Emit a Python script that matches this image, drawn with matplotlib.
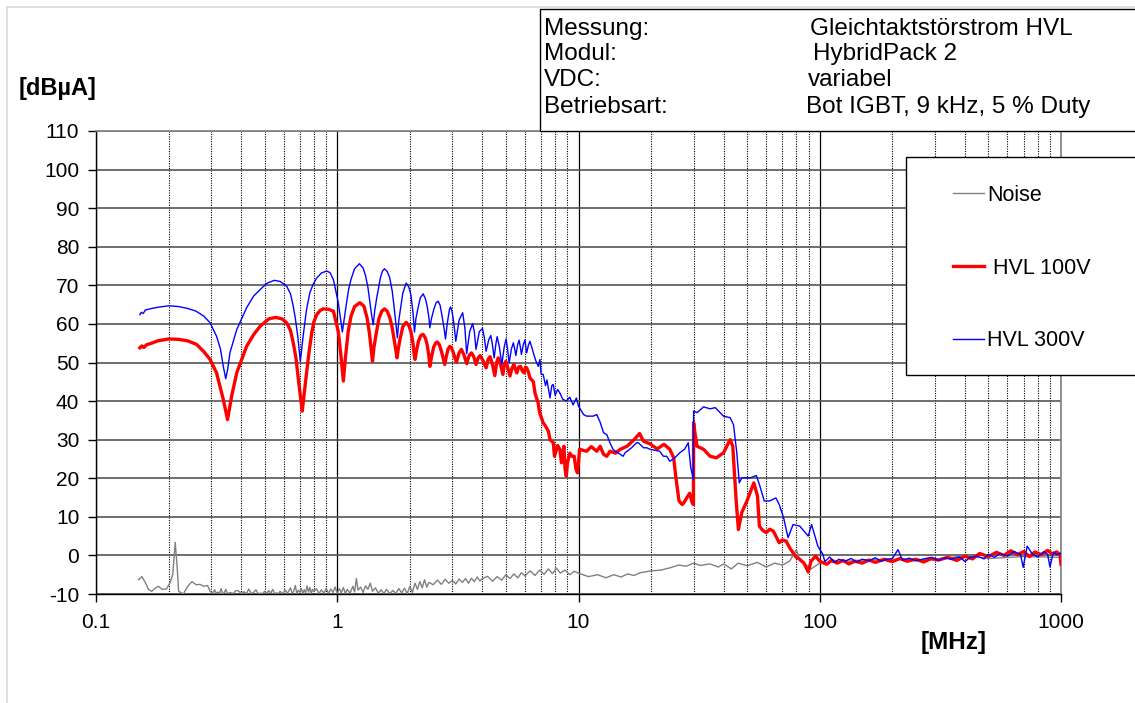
import matplotlib
matplotlib.use("Agg")
import matplotlib.pyplot as plt
from matplotlib.patches import Rectangle
from matplotlib.lines import Line2D
import numpy as np

plt.rcParams['font.family'] = ['Liberation Sans', 'DejaVu Sans']

# ---------------- data ----------------
red_f = [0.152, 0.155, 0.158, 0.162, 0.17, 0.18, 0.2, 0.22, 0.24, 0.261, 0.28, 0.297, 0.316, 0.337, 0.351,
         0.365, 0.383, 0.421, 0.45, 0.479, 0.52, 0.556, 0.59, 0.617, 0.64, 0.657, 0.675, 0.69, 0.716, 0.746,
         0.765, 0.784, 0.80, 0.822, 0.85, 0.875, 0.92, 0.964, 1.01, 1.035, 1.06,
         1.08, 1.11, 1.14, 1.18, 1.24, 1.29, 1.33, 1.36, 1.38, 1.40,
         1.42, 1.45, 1.49, 1.53, 1.57, 1.61, 1.65, 1.69, 1.72, 1.75, 1.77,
         1.79, 1.82, 1.87, 1.93, 1.98, 2.02, 2.06, 2.08, 2.10,
         2.13, 2.17, 2.22, 2.27, 2.32, 2.36, 2.40, 2.42,
         2.46, 2.51, 2.56, 2.60, 2.65, 2.70, 2.75, 2.79,
         2.83, 2.88, 2.93, 2.98, 3.03, 3.08, 3.12,
         3.2, 3.27, 3.35, 3.44, 3.52, 3.6, 3.68, 3.76, 3.84, 3.91, 4.02, 4.14, 4.22, 4.30, 4.4, 4.5, 4.58, 4.65,
         4.75, 4.86, 4.93, 5.0, 5.1, 5.2, 5.3, 5.4, 5.48, 5.55, 5.65, 5.75, 5.85, 5.95, 6.03, 6.1, 6.2, 6.29,
         6.5, 6.6, 6.8, 6.9, 7.14, 7.3, 7.5, 7.62, 7.86, 7.95, 8.2, 8.37, 8.5, 8.7, 8.8, 8.9, 9.0, 9.2, 9.4,
         9.6, 9.75, 9.9, 10.0, 10.1, 10.5, 10.8, 11.3, 11.9, 12.3, 12.7, 13.1, 13.5, 14.2, 14.9, 15.9, 17.0,
         17.9, 18.6, 19.8, 21.2, 22.6, 23.9, 24.8, 25.3, 26.1, 26.9, 27.3, 28.4, 28.9, 29.6, 29.95, 30.0, 30.5,
         31.0, 33.0, 35.1, 37.3, 39.9, 42.5, 43.6, 45.0, 46.0, 47.5, 49.9, 53.3, 55.2, 56.2, 58, 60.0, 62, 64.2,
         67.9, 70, 72.6, 75, 77.5, 80, 82.6, 86, 89.6, 92, 96, 100, 107, 112, 118, 125, 132, 140, 150, 160,
         170, 185, 200, 215, 230, 250, 270, 290, 310, 340, 370, 400, 430, 460, 500, 540, 580, 620, 660, 700,
         740, 780, 830, 880, 920, 960, 990, 1000]
red_v = [53.8, 54.3, 53.9, 54.6, 55.0, 55.6, 56.1, 56.0, 55.6, 54.7, 52.8, 50.8, 47.3, 40.4, 35.2,
         41.3, 47.3, 54.2, 57.2, 59.4, 61.3, 61.7, 61.3, 60.3, 58.3, 55.1, 51.0, 45.6, 37.4, 47.3,
         53.0, 57.7, 60.5, 62.4, 63.5, 63.9, 63.8, 63.3, 58.0, 52.0, 45.2,
         51.0, 58.0, 62.0, 64.5, 65.5, 64.6, 61.5, 57.5, 54.0, 50.3,
         54.0, 57.5, 61.5, 63.3, 63.9, 63.3, 61.7, 59.0, 56.0, 53.0, 51.2,
         53.5, 56.0, 59.3, 60.4, 59.6, 58.0, 55.0, 52.5, 50.8,
         53.0, 55.5, 57.0, 57.3, 56.3, 54.5, 51.5, 49.0,
         51.5, 54.0, 55.1, 55.3, 54.6, 53.0, 51.0, 49.5,
         51.5, 53.5, 54.2, 53.7, 52.5, 51.0, 50.1,
         52.5, 53.4, 52.0, 49.7, 51.8, 52.5, 51.5, 49.5, 51.2, 51.8, 50.5, 48.6, 50.8, 51.5, 49.5, 46.6, 50.0, 51.2,
         49.5, 46.9, 49.5, 50.3, 48.5, 46.5, 48.5, 49.5, 48.2, 47.3, 48.8, 49.0, 47.8, 47.3, 48.8, 48.6, 47.5, 46.0,
         45.0, 42.1, 39.6, 37.0, 34.4, 33.5, 32.2, 30.0, 29.2, 25.7, 28.5, 27.5, 24.0, 28.3, 22.3, 20.5, 24.0, 26.5, 25.7,
         25.7, 22.5, 21.4, 24.0, 27.5, 27.2, 27.0, 28.2, 27.0, 28.3, 26.2, 25.7, 27.0, 26.5, 27.5, 28.3, 30.0,
         31.6, 29.6, 28.9, 27.6, 28.8, 27.5, 25.3, 20.5, 14.1, 13.2, 13.6, 15.4, 16.1, 13.6, 13.2, 34.4, 31.0,
         28.3, 27.5, 25.7, 25.3, 26.6, 30.0, 28.3, 14.5, 6.7, 11.1, 14.1, 18.8, 15.4, 7.6, 6.5, 5.9, 6.8, 6.3,
         3.3, 4.0, 3.7, 2.0, 0.7, -0.5, -1.0, -2.0, -4.3, -1.5, -0.2, -1.5, -2.3, -1.2, -2.0, -1.3, -2.2, -1.5, -2.0, -1.2,
         -1.8, -1.0, -1.6, -0.8, -1.5, -1.0, -1.7, -0.8, -1.2, -0.5, -1.3, -0.2, -0.9, 0.5, -0.3, 0.8, 0.0, 1.2, 0.2, 1.0,
         -0.3, 0.9, 0.2, 1.3, 0.4, 0.9, 0.3, -2.3]

blue_f = [0.152, 0.154, 0.157, 0.16, 0.17, 0.18, 0.2, 0.22, 0.24, 0.26, 0.28, 0.297, 0.316, 0.328, 0.337,
          0.345, 0.352, 0.359, 0.383, 0.421, 0.45, 0.479, 0.51, 0.548, 0.58, 0.617, 0.64, 0.657, 0.67, 0.686,
          0.703, 0.722, 0.745, 0.77, 0.795, 0.822, 0.86, 0.904, 0.933, 0.964, 1.01, 1.05,
          1.07, 1.09, 1.115, 1.14, 1.18, 1.235, 1.28, 1.31, 1.34, 1.37, 1.39, 1.41,
          1.43, 1.46, 1.51, 1.54, 1.57, 1.61, 1.65, 1.69, 1.72, 1.75, 1.775,
          1.80, 1.83, 1.87, 1.93, 1.98, 2.02, 2.06, 2.09,
          2.12, 2.16, 2.21, 2.27, 2.32, 2.36, 2.40, 2.42,
          2.46, 2.52, 2.57, 2.62, 2.67, 2.72, 2.77, 2.81,
          2.85, 2.88, 2.92, 2.95, 2.99, 3.03, 3.07, 3.10,
          3.2, 3.31, 3.38, 3.44, 3.54, 3.64, 3.7, 3.76, 3.88, 4.0, 4.07, 4.14, 4.25, 4.33, 4.4, 4.47, 4.55, 4.6,
          4.7, 4.81, 4.92, 5.01, 5.08, 5.16, 5.27, 5.37, 5.44, 5.50, 5.59, 5.67, 5.74, 5.80, 5.9, 6.0, 6.05, 6.1,
          6.2, 6.29, 6.4, 6.5, 6.65, 6.81, 6.92, 7.0, 7.14, 7.3, 7.4, 7.62, 7.75, 7.86, 8.0, 8.2, 8.37, 8.6, 8.9,
          9.2, 9.5, 9.8, 10.0, 10.5, 10.8, 11.5, 11.9, 12.3, 12.7, 13.1, 13.5, 13.9, 14.2, 14.9, 15.3, 15.6, 16.6,
          17.4, 17.7, 18.6, 19.2, 19.8, 21.7, 22.5, 23.2, 23.9, 25.1, 26.3, 27.5, 28.5, 29.2, 29.95, 30.0, 31.0,
          33.0, 35.1, 36.9, 39.9, 42.5, 43.9, 45.3, 46.4, 47.5, 51.5, 54.6, 56.2, 58.9, 61.9, 65.8, 67.9, 70.8,
          73.9, 77.5, 82.6, 89.6, 92.5, 98.2, 103, 105, 110, 115, 120, 127, 135, 142, 150, 160, 170, 180, 190,
          200, 211, 220, 235, 250, 270, 290, 310, 330, 350, 380, 400, 420, 450, 480, 500, 530, 560, 600, 640,
          680, 697, 724, 760, 800, 850, 880, 900, 930, 960, 1000]
blue_v = [62.4, 63.0, 62.7, 63.6, 64.0, 64.3, 64.7, 64.5, 64.0, 63.3, 62.0, 60.3, 56.8, 53.5, 49.0,
          45.8, 48.5, 52.5, 58.5, 64.2, 67.2, 68.9, 70.5, 71.3, 71.0, 69.8, 67.8, 64.6, 61.5, 56.8,
          50.3, 56.8, 63.5, 68.1, 70.3, 71.9, 73.2, 73.7, 73.3, 71.5, 65.5, 57.9,
          61.5, 65.0, 69.0, 71.5, 74.3, 75.6, 74.5, 72.5, 69.5, 65.0, 62.0, 59.8,
          63.5, 67.0, 72.0, 73.7, 74.3, 73.6, 72.0, 68.5, 64.5, 60.0, 56.4,
          61.0, 64.0, 68.0, 70.6, 69.6, 67.5, 63.0, 57.9,
          61.5, 64.0, 66.8, 67.8, 66.5, 64.5, 61.5, 59.0,
          61.5, 64.0, 65.5, 65.9, 64.8, 62.0, 59.0, 56.1,
          59.5, 61.5, 63.8, 64.4, 63.3, 61.0, 58.0, 55.5,
          61.0, 62.9, 59.0, 52.3, 58.0, 60.1, 58.0, 53.4, 58.0, 58.8, 56.5, 52.9, 56.0, 57.0, 54.5, 51.2, 55.0, 56.7,
          54.0, 49.5, 54.0, 56.1, 53.5, 49.9, 53.5, 55.1, 53.5, 51.8, 54.5, 55.8, 54.0, 52.1, 54.5, 55.9, 54.0, 52.5,
          54.5, 55.5, 54.0, 52.5, 50.5, 49.0, 50.8, 47.0, 46.9, 44.0, 45.5, 40.8, 44.0, 44.3, 41.5, 43.0, 42.1, 40.5, 40.0,
          41.0, 39.0, 40.8, 38.7, 36.5, 36.1, 36.1, 36.5, 34.5, 31.8, 31.3, 29.2, 27.5, 27.0, 26.2, 25.7, 26.6, 27.9,
          29.2, 29.2, 27.9, 27.9, 27.5, 27.0, 25.7, 25.7, 24.4, 25.3, 26.6, 27.5, 29.2, 22.7, 19.7, 37.4, 37.0,
          38.5, 38.0, 38.3, 36.1, 35.7, 33.9, 26.6, 18.8, 20.1, 20.1, 20.7, 18.4, 14.1, 14.1, 14.9, 13.2, 9.8,
          4.6, 8.0, 7.6, 5.0, 8.0, 2.4, 0.3, -1.6, -0.4, -1.8, -1.0, -1.5, -0.8, -1.7, -1.0, -1.4, -0.6, -1.5, -1.0,
          -0.8, 1.5, -1.2, -0.7, -1.4, -0.9, -0.5, -1.3, -0.6, -1.0, -0.4, -1.6, -0.5, -0.2, -0.9, 0.3, -0.5, 0.5, -0.2, 1.0,
          0.2, -3.1, 2.4, 0.4, -0.4, 1.0, 0.3, -3.0, 0.8, 0.2, 0.5]

noise_f = [0.150, 0.155, 0.160, 0.165, 0.170, 0.175, 0.181, 0.188, 0.196, 0.203, 0.208, 0.213, 0.217, 0.220,
           0.23, 0.24, 0.25, 0.26, 0.27, 0.28, 0.29, 0.297,
           0.305, 0.31, 0.315, 0.32, 0.325, 0.33, 0.335, 0.34, 0.345, 0.35, 0.36, 0.37, 0.38, 0.39, 0.40,
           0.41, 0.42, 0.43, 0.44, 0.45, 0.46, 0.47, 0.48, 0.49, 0.50, 0.51, 0.52, 0.53, 0.54, 0.55, 0.56,
           0.57, 0.58, 0.59, 0.60, 0.61, 0.62, 0.63, 0.64, 0.65, 0.66, 0.67, 0.68, 0.69, 0.70, 0.71, 0.72,
           0.73, 0.74, 0.75, 0.76, 0.77, 0.78, 0.79, 0.80, 0.82, 0.84, 0.86, 0.88, 0.90, 0.92, 0.94, 0.96,
           0.98, 1.0, 1.02, 1.04, 1.06, 1.08, 1.10, 1.13, 1.16, 1.18, 1.2, 1.22, 1.25, 1.28, 1.31, 1.34, 1.37,
           1.40, 1.44, 1.48, 1.52, 1.56, 1.6, 1.65, 1.7, 1.75, 1.8, 1.85, 1.9, 1.95, 2.0, 2.05, 2.1, 2.15,
           2.2, 2.25, 2.3, 2.35, 2.4, 2.5, 2.6, 2.7, 2.8, 2.9, 3.0, 3.1, 3.2, 3.3, 3.4, 3.5, 3.6, 3.7, 3.8,
           3.9, 4.0, 4.2, 4.4, 4.6, 4.8, 5.0, 5.2, 5.4, 5.6, 5.8, 6.0, 6.3, 6.6, 6.9, 7.2, 7.5, 7.8, 8.1,
           8.4, 8.8, 9.2, 9.6, 10, 11, 12, 13, 14, 15, 16, 17, 18, 20, 22, 24, 26, 28, 30,
           32, 35, 38, 40, 43, 46, 50, 55, 60, 65, 70, 75, 80, 83, 88, 92, 100, 110, 130, 150, 200, 300, 400,
           500, 700, 1000]
noise_v = [-6.3, -5.5, -7.0, -8.8, -9.3, -8.6, -8.0, -8.8, -8.7, -7.0, -5.0, 3.4, -3.0, -9.3,
           -10.0, -8.0, -6.8, -7.6, -7.5, -8.0, -7.8, -9.3,
           -9.9, -8.9, -9.8, -9.5, -9.9, -8.6, -9.9, -9.7, -8.8, -9.9, -9.6, -9.9, -9.1, -9.2, -9.9,
           -9.4, -9.9, -8.7, -9.9, -9.6, -8.9, -9.9, -9.8, -9.9, -9.3, -9.9, -9.1, -9.8, -8.8, -9.9, -9.7,
           -9.9, -9.3, -9.9, -9.5, -9.0, -9.9, -9.2, -8.4, -9.9, -9.3, -7.8, -9.9, -9.0, -9.6, -8.6, -9.9,
           -8.9, -9.7, -7.9, -9.5, -8.3, -9.9, -8.8, -9.4, -8.6, -9.9, -8.9, -9.8, -8.5, -9.9, -8.7, -9.6,
           -8.2, -9.9, -8.6, -9.7, -8.3, -9.9, -8.8, -9.8, -8.0, -9.5, -6.0, -9.0, -8.2, -9.6, -7.9, -8.8, -7.2,
           -9.3, -8.4, -9.8, -8.9, -9.9, -8.8, -9.9, -9.1, -9.8, -8.6, -9.7, -8.5, -9.9, -8.0, -9.6, -7.2, -8.8,
           -6.8, -8.4, -6.3, -8.2, -7.0, -7.6, -6.4, -7.5, -6.2, -7.2, -6.5, -7.4, -6.1, -7.0, -6.0, -7.2, -5.9, -6.8, -5.6,
           -6.6, -6.0, -5.4, -6.7, -5.5, -6.4, -5.0, -6.0, -4.8, -5.8, -4.5, -5.3, -4.0, -5.2, -3.8, -4.9, -3.5, -4.7, -3.3,
           -4.6, -3.8, -5.0, -4.1, -4.6, -5.5, -5.0, -5.8, -5.0, -5.6, -4.8, -5.2, -4.5, -4.0, -3.8, -3.2, -2.5, -2.8, -2.0,
           -2.6, -2.2, -3.0, -2.2, -3.5, -2.0, -2.7, -1.8, -3.0, -2.0, -2.5, -1.5, 1.5, -1.5, -2.5, -3.5, -2.0, -1.8, -1.5, -1.2, -1.0, -1.2, 0.0,
           -0.8, -0.3, -0.5]

x_ticks = [0.1, 1, 10, 100, 1000]
x_tick_labels = ["0.1", "1", "10", "100", "1000"]
y_ticks = list(range(-10, 111, 10))

series_labels = ["Noise", " HVL 100V", "HVL 300V"]
info_keys = ["Messung:", "Modul:", "VDC:", "Betriebsart:"]
info_vals = ["Gleichtaktstörstrom HVL", "HybridPack 2", "variabel", "Bot IGBT, 9 kHz, 5 % Duty"]

# ---------------- figure ----------------
W, H = 1135, 703
fig = plt.figure(figsize=(W / 100, H / 100), dpi=100)
fig.patch.set_facecolor('white')

def fx(px):
    return px / W

def fy(py):
    return 1 - py / H

ax = fig.add_axes([fx(96), fy(594), fx(1061) - fx(96), fy(131) - fy(594)])
ax.set_xscale('log')
ax.set_xlim(0.1, 1000)
ax.set_ylim(-10, 110)

ax.plot(noise_f, noise_v, color='#808080', lw=1.0, zorder=3)
ax.plot(red_f, red_v, color='#ff0000', lw=2.4, zorder=4, solid_joinstyle='round')
ax.plot(blue_f, blue_v, color='#0000ff', lw=1.0, zorder=5)

ax.set_xticks(x_ticks)
ax.set_xticklabels(x_tick_labels)
ax.set_yticks(y_ticks)
ax.set_yticklabels([str(v) for v in y_ticks])
ax.xaxis.set_minor_locator(matplotlib.ticker.LogLocator(base=10, subs=np.arange(2, 10), numticks=20))
ax.xaxis.set_minor_formatter(matplotlib.ticker.NullFormatter())
ax.tick_params(axis='both', which='major', direction='out', length=6, width=1, labelsize=15, color='black')
ax.tick_params(axis='x', which='minor', length=0)
ax.tick_params(axis='x', which='major', pad=8)
ax.tick_params(axis='y', which='major', pad=6)

ax.grid(True, which='major', axis='y', color='#555555', lw=1.2, zorder=1)
ax.grid(True, which='major', axis='x', color='black', lw=0.9, zorder=1)
ax.grid(True, which='minor', axis='x', color='black', lw=0.8, linestyle=(0, (1, 1.2)), zorder=1)
ax.set_axisbelow(True)

for s in ['left', 'bottom']:
    ax.spines[s].set_color('black')
    ax.spines[s].set_linewidth(1.0)
for s in ['top', 'right']:
    ax.spines[s].set_color('#808080')
    ax.spines[s].set_linewidth(1.2)

# outer chart frame (light gray)
fig.add_artist(Line2D([fx(7), fx(7)], [0, fy(7)], color='#d9d9d9', lw=1.2))
fig.add_artist(Line2D([fx(7), 1], [fy(7), fy(7)], color='#d9d9d9', lw=1.2))

# axis unit labels
fig.text(fx(19), fy(88), "[dBµA]", fontsize=17, fontweight='bold', ha='left', va='center')
fig.text(fx(921), fy(643), "[MHz]", fontsize=17.5, fontweight='bold', ha='left', va='center')

# info box
info_rect = Rectangle((fx(540), fy(131)), 1.0, fy(9) - fy(131), transform=fig.transFigure,
                      facecolor='white', edgecolor='black', lw=1.0, clip_on=False, zorder=20)
ax.add_artist(info_rect)
row_y = [29, 54, 80, 107]
val_x = [810, 813, 808, 806]
for k, v, yy, vx in zip(info_keys, info_vals, row_y, val_x):
    fig.text(fx(544), fy(yy), k, fontsize=17.5, ha='left', va='center', zorder=21)
    fig.text(fx(vx), fy(yy), v, fontsize=17.5, ha='left', va='center', zorder=21)

# legend box
leg_rect = Rectangle((fx(906), fy(375)), 1.0, fy(157) - fy(375), transform=fig.transFigure,
                     facecolor='white', edgecolor='black', lw=1.0, clip_on=False, zorder=20)
ax.add_artist(leg_rect)
handles = [Line2D([], [], color='#808080', lw=1.0),
           Line2D([], [], color='#ff0000', lw=2.4),
           Line2D([], [], color='#0000ff', lw=1.0)]
leg = ax.legend(handles, series_labels, loc='upper left', bbox_to_anchor=(fx(953), fy(185)),
                bbox_transform=fig.transFigure, frameon=False, fontsize=15.5,
                handlelength=1.45, handletextpad=0.15, labelspacing=2.4,
                borderpad=0, borderaxespad=0)
leg.set_zorder(25)

fig.savefig("out.png", dpi=100, facecolor='white')
